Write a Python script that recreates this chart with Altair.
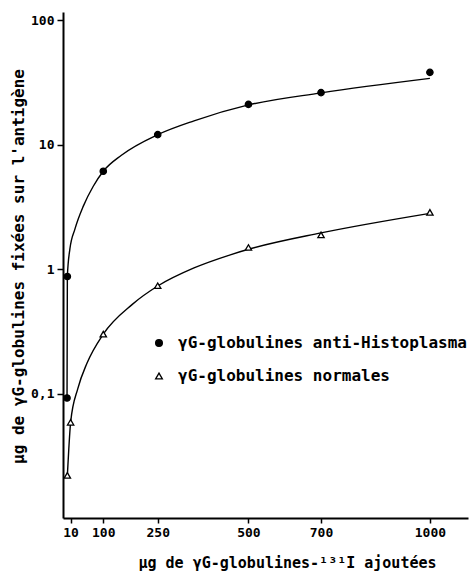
import altair as alt
import pandas as pd

# Measured points
anti_x = [0.1, 1, 100, 250, 500, 700, 1000]
anti_y = [0.092, 0.87, 6.1, 12.0, 21.0, 26.1, 38.0]
norm_x = [1, 10, 100, 250, 500, 700, 1000]
norm_y = [0.022, 0.0587, 0.30, 0.734, 1.49, 1.88, 2.85]

# Hand-drawn fitted curves
anti_curve_x = [0.1, 1, 8, 22, 45, 72, 100, 150, 250, 350, 500, 700, 1000]
anti_curve_y = [0.092, 0.87, 1.45, 2.1, 3.2, 4.6, 6.1, 8.2, 12.0, 15.5, 20.8, 26.0, 34.0]
norm_curve_x = [1, 5, 10, 30, 55, 100, 180, 250, 350, 450, 500, 700, 1000]
norm_curve_y = [0.022, 0.036, 0.0587, 0.11, 0.175, 0.30, 0.52, 0.73, 1.02, 1.30, 1.44, 1.95, 2.8]

series_names = ["\u03b3G-globulines anti-Histoplasma", "\u03b3G-globulines normales"]

x_ticks = [10, 100, 250, 500, 700, 1000]
y_ticks = [0.1, 1, 10, 100]

FONT = "DejaVu Sans Mono"

pts = pd.DataFrame(
    [{"series": series_names[0], "x": a, "y": b} for a, b in zip(anti_x, anti_y)]
    + [{"series": series_names[1], "x": a, "y": b} for a, b in zip(norm_x, norm_y)]
)
curves = pd.DataFrame(
    [{"series": series_names[0], "x": a, "y": b, "i": i} for i, (a, b) in enumerate(zip(anti_curve_x, anti_curve_y))]
    + [{"series": series_names[1], "x": a, "y": b, "i": i} for i, (a, b) in enumerate(zip(norm_curve_x, norm_curve_y))]
)

xscale = alt.Scale(domain=[-11, 1105], nice=False, zero=False)
yscale = alt.Scale(type="log", domain=[0.01, 116], nice=False)

xaxis = alt.Axis(
    values=x_ticks, grid=False, domainColor="black", domainWidth=2,
    tickColor="black", tickWidth=1.5, tickSize=5, format="d",
    labelFont=FONT, labelFontSize=13, labelFontWeight="bold", labelColor="black",
    labelPadding=3, labelFlush=False,
    title="\u00b5g de \u03b3G-globulines-\u00b9\u00b3\u00b9I  ajout\u00e9es",
    titleFont=FONT, titleFontSize=15, titleFontWeight="bold", titleColor="black",
    titleX=224, titleY=44, titleBaseline="middle", titleAlign="center",
)
yaxis = alt.Axis(
    values=y_ticks, grid=False, domainColor="black", domainWidth=2,
    tickColor="black", tickWidth=1.5, tickSize=6,
    labelFont=FONT, labelFontSize=13, labelFontWeight="bold", labelColor="black",
    labelPadding=3,
    labelExpr="datum.value == 0.1 ? '0,1' : format(datum.value, 'd')",
    title="\u00b5g de \u03b3G-globulines fix\u00e9es sur l'antig\u00e8ne",
    titleFont=FONT, titleFontSize=16, titleFontWeight="bold", titleColor="black",
    titleX=-45, titleY=254, titleAngle=-90, titleBaseline="middle", titleAlign="center",
)

lines = alt.Chart(curves).mark_line(
    interpolate="monotone", color="black", strokeWidth=1.4
).encode(
    x=alt.X("x:Q", scale=xscale, axis=xaxis),
    y=alt.Y("y:Q", scale=yscale, axis=yaxis),
    detail="series:N",
    order="i:Q",
)

legend = alt.Legend(
    orient="none", legendX=88, legendY=323, title=None, padding=0,
    labelFont=FONT, labelFontSize=16, labelFontWeight="bold", labelColor="black",
    labelOffset=11, labelLimit=0, rowPadding=17, symbolSize=45,
    symbolStrokeWidth=1.3,
)

points = alt.Chart(pts).mark_point(
    strokeWidth=1.3, opacity=1, filled=False
).encode(
    x=alt.X("x:Q", scale=xscale),
    y=alt.Y("y:Q", scale=yscale),
    shape=alt.Shape(
        "series:N",
        scale=alt.Scale(domain=series_names, range=["circle", "triangle-up"]),
        legend=legend,
    ),
    fill=alt.Fill(
        "series:N",
        scale=alt.Scale(domain=series_names, range=["black", "white"]),
        legend=legend,
    ),
    stroke=alt.Stroke(
        "series:N",
        scale=alt.Scale(domain=series_names, range=["black", "black"]),
        legend=legend,
    ),
    size=alt.value(40),
)

chart = (
    alt.layer(lines, points)
    .properties(
        width=405, height=506,
        autosize=alt.AutoSizeParams(type="none"),
        padding={"left": 63, "top": 12, "right": 5, "bottom": 54},
        background="white",
    )
    .configure_view(stroke=None)
)

chart.save("out.html", embed_options={"renderer": "svg", "actions": False})
